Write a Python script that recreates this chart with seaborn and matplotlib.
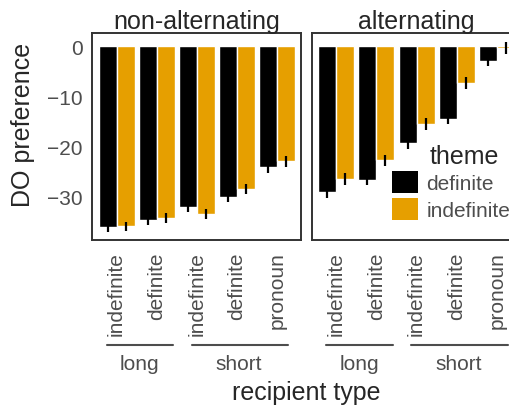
import matplotlib
matplotlib.use("Agg")
import matplotlib.pyplot as plt
from matplotlib.patches import Patch
import pandas as pd
import seaborn as sns

# recipient type (nested: length / definiteness)
recipient_len = ['long', 'long', 'short', 'short', 'short']
recipient_def = ['indefinite', 'definite', 'indefinite', 'definite', 'pronoun']
themes = ['definite', 'indefinite']
panels = ['non-alternating', 'alternating']

# DO preference
nonalt_definite = [-36.1, -34.7, -32.1, -30.1, -24.1]
nonalt_indefinite = [-35.9, -34.3, -33.5, -28.5, -22.9]
alt_definite = [-29.1, -26.7, -19.3, -14.5, -2.9]
alt_indefinite = [-26.4, -22.7, -15.5, -7.3, -0.4]

# error bar half-widths
nonalt_definite_err = [1.0, 0.9, 0.9, 0.9, 1.2]
nonalt_indefinite_err = [0.9, 1.0, 1.0, 1.0, 1.1]
alt_definite_err = [1.1, 1.0, 1.1, 1.1, 1.0]
alt_indefinite_err = [1.2, 1.1, 1.2, 1.2, 1.2]

colors = {'definite': '#000000', 'indefinite': '#E69F00'}
grey = '#4D4D4D'
dark = '#333333'

keys = [f"{l} {d}" for l, d in zip(recipient_len, recipient_def)]
values = {
    ('non-alternating', 'definite'): (nonalt_definite, nonalt_definite_err),
    ('non-alternating', 'indefinite'): (nonalt_indefinite, nonalt_indefinite_err),
    ('alternating', 'definite'): (alt_definite, alt_definite_err),
    ('alternating', 'indefinite'): (alt_indefinite, alt_indefinite_err),
}
rows = []
for (panel, theme), (vals, errs) in values.items():
    for k, v, e in zip(keys, vals, errs):
        rows.append({'panel': panel, 'recipient': k, 'theme': theme, 'pref': v, 'err': e})
df = pd.DataFrame(rows)

sns.set_style("white")
plt.rcParams['font.family'] = ['Liberation Sans', 'DejaVu Sans']

W, H = 510, 410
fig = plt.figure(figsize=(W / 100, H / 100), dpi=100)

def box(x0, y0, x1, y1):
    return [x0 / W, 1 - y1 / H, (x1 - x0) / W, (y1 - y0) / H]

ax_top, ax_bot = 33.5, 241
axes = [fig.add_axes(box(92.5, ax_top, 301, ax_bot)),
        fig.add_axes(box(312.3, ax_top, 520.8, ax_bot))]

def yfrac(py):
    return (ax_bot - py) / (ax_bot - ax_top)

for i, (ax, panel) in enumerate(zip(axes, panels)):
    sub = df[df['panel'] == panel]
    sns.barplot(data=sub, x='recipient', y='pref', hue='theme', order=keys,
                hue_order=themes, palette=colors, width=0.9, errorbar=None,
                saturation=1, legend=False, ax=ax)

    # error bars centred on each bar
    bars = sorted(ax.patches, key=lambda p: p.get_x())
    sub_sorted = sub.assign(o=sub['recipient'].map(keys.index),
                            t=sub['theme'].map(themes.index)).sort_values(['o', 't'])
    xs = [b.get_x() + b.get_width() / 2 for b in bars]
    ax.errorbar(xs, sub_sorted['pref'], yerr=sub_sorted['err'], fmt='none',
                ecolor='black', elinewidth=1.6, capsize=0, zorder=5)

    ax.set_xlim(-0.6, 4.6)
    ax.set_ylim(-38.64, 2.75)
    ax.set_xlabel('')
    ax.set_ylabel('')
    ax.set_title(panel, fontsize=18, pad=3)
    ax.set_xticks(range(len(keys)))
    ax.set_xticklabels(recipient_def, rotation=90, va='top', ha='center',
                       fontsize=15, color=grey)
    ax.tick_params(axis='x', length=4, width=1.1, color=dark, pad=4)
    if i == 0:
        ax.set_yticks([-30, -20, -10, 0])
        ax.tick_params(axis='y', length=4, width=1.1, color=dark, pad=3,
                       labelsize=15, labelcolor=grey)
    else:
        ax.set_yticks([])
    for s in ax.spines.values():
        s.set_visible(True)
        s.set_color(dark)
        s.set_linewidth(1.4)

    # nested group brackets
    trans = ax.get_xaxis_transform()
    for grp, (a, b), xc in [('long', (-0.25, 1.42), 0.57), ('short', (1.87, 4.28), 3.05)]:
        ax.plot([a, b], [yfrac(346), yfrac(346)], color=grey, lw=1.5,
                transform=trans, clip_on=False)
        ax.text(xc, yfrac(355), grp, transform=trans, ha='center', va='top',
                fontsize=15, color=grey)

fig.text(23 / W, 1 - 125 / H, 'DO preference', rotation=90, ha='center',
         va='center', fontsize=18)
fig.text(306 / W, 1 - 393 / H, 'recipient type', ha='center', va='center',
         fontsize=18)

# legend
handles = [Patch(facecolor=colors[t], edgecolor='none') for t in themes]
fig.legend(handles, themes, loc='upper left', bbox_to_anchor=(392 / W, 1 - 172 / H),
           frameon=False, fontsize=15, labelcolor=grey, handlelength=1.25,
           handleheight=1.25, handletextpad=0.4, labelspacing=0.25,
           borderpad=0, borderaxespad=0)
fig.text(430 / W, 1 - 157 / H, 'theme', ha='left', va='center', fontsize=18)

fig.savefig('out.png', dpi=100)
